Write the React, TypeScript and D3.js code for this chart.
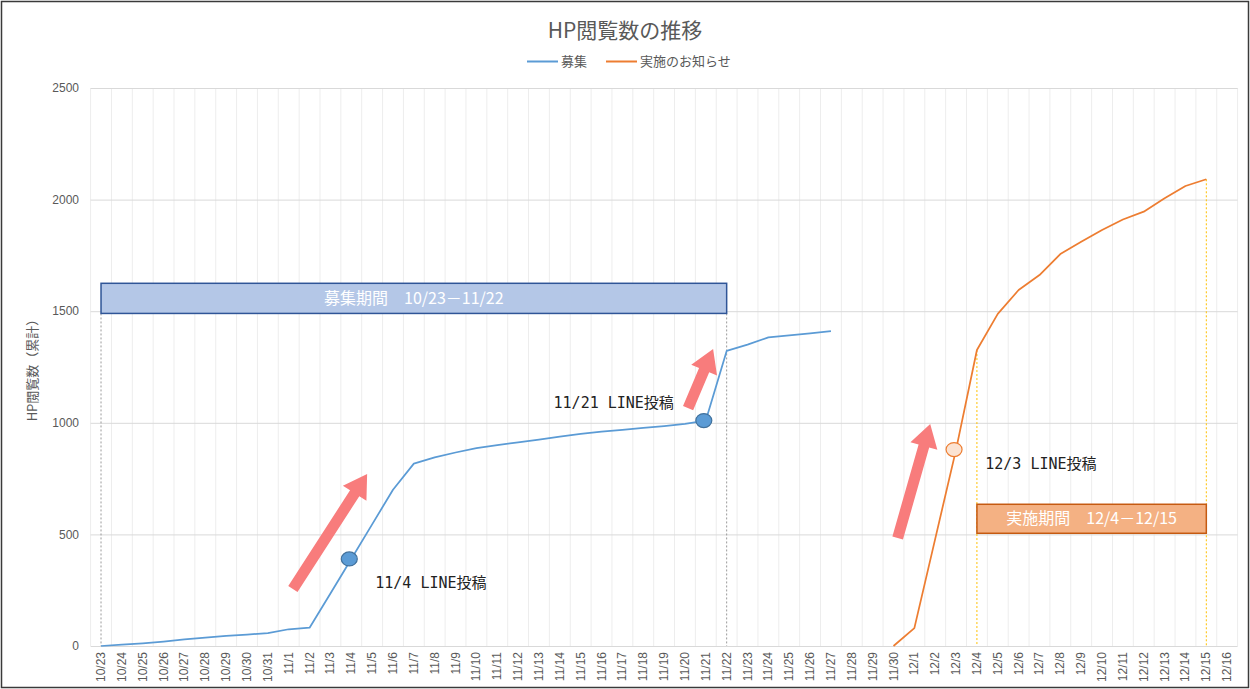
import { useEffect, useRef } from 'react';
import * as d3 from 'd3';

// categories (x axis)
const dates = [
  '10/23', '10/24', '10/25', '10/26', '10/27', '10/28', '10/29', '10/30', '10/31',
  '11/1', '11/2', '11/3', '11/4', '11/5', '11/6', '11/7', '11/8', '11/9', '11/10',
  '11/11', '11/12', '11/13', '11/14', '11/15', '11/16', '11/17', '11/18', '11/19', '11/20',
  '11/21', '11/22', '11/23', '11/24', '11/25', '11/26', '11/27', '11/28', '11/29', '11/30',
  '12/1', '12/2', '12/3', '12/4', '12/5', '12/6', '12/7', '12/8', '12/9', '12/10',
  '12/11', '12/12', '12/13', '12/14', '12/15', '12/16',
];

// 募集
const recruitViews: (number | null)[] = [
  0, 6, 12, 20, 30, 37, 45, 51, 58,
  75, 82, 235, 390, 545, 700, 817, 845, 867, 887,
  900, 912, 925, 938, 950, 960, 968, 977, 985, 995,
  1010, 1322, 1350, 1383, 1392, 1401, 1411, null, null, null,
  null, null, null, null, null, null, null, null, null, null,
  null, null, null, null, null, null,
];

// 実施のお知らせ
const noticeViews: (number | null)[] = [
  null, null, null, null, null, null, null, null, null,
  null, null, null, null, null, null, null, null, null, null,
  null, null, null, null, null, null, null, null, null, null,
  null, null, null, null, null, null, null, null, null, 0,
  80, 480, 880, 1326, 1488, 1595, 1662, 1756, 1811, 1864,
  1911, 1946, 2006, 2061, 2091, null,
];

const yTicks = [0, 500, 1000, 1500, 2000, 2500];

const seriesNames = ['募集', '実施のお知らせ'];
const seriesColors = ['#5B9BD5', '#ED7D31'];

// annotations, in (category index, value) units
const markerDates = ['11/4', '11/21', '12/3'];
const markerSeries = [0, 0, 1];

const noteTexts = ['11/4 LINE投稿', '11/21 LINE投稿', '12/3 LINE投稿'];
const noteAt = [13.15, 21.7, 42.4];
const noteValues = [282, 1089, 818];

const arrowFrom: [number, number][] = [[9.2, 255], [28.15, 1066], [38.2, 484]];
const arrowTo: [number, number][] = [[12.76, 771], [29.35, 1331], [39.76, 995]];

const periodLabels = ['募集期間　10/23－11/22', '実施期間　12/4－12/15'];
const periodFrom = ['10/23', '12/4'];
const periodTo = ['11/22', '12/15'];
const periodTop = [1625, 635];
const periodBottom = [1490, 505];

export default function App() {
  const ref = useRef<SVGSVGElement>(null);

  useEffect(() => {
    if (!ref.current) return;
    const svg = d3.select(ref.current);
    svg.selectAll('*').remove();

    const W = 1250, H = 689;
    const left = 90.6, right = 1237.6, top = 88, bottom = 646;
    const jp = '"Noto Sans CJK JP", "Noto Sans", sans-serif';
    const num = '"Liberation Sans", Arial, sans-serif';
    const mono = '"DejaVu Sans Mono", "Noto Sans CJK JP", monospace';

    const x = d3.scalePoint<string>().domain(dates).range([left, right]).padding(0.5);
    const step = x.step();
    const xi = (i: number) => (x(dates[0]) as number) + i * step;
    const y = d3.scaleLinear().domain([0, 2500]).range([bottom, top]);

    svg.append('rect').attr('width', W).attr('height', H).attr('fill', '#fff');
    svg.append('rect')
      .attr('x', 1.5).attr('y', 1.5).attr('width', W - 3).attr('height', H - 3)
      .attr('fill', 'none').attr('stroke', '#3a3a3a').attr('stroke-width', 1.5);

    // vertical grid (category boundaries)
    svg.append('g').selectAll('line')
      .data(d3.range(dates.length + 1))
      .enter().append('line')
      .attr('x1', d => left + d * step).attr('x2', d => left + d * step)
      .attr('y1', top).attr('y2', bottom)
      .attr('stroke', '#EDEDED').attr('stroke-width', 1);

    // horizontal grid
    svg.append('g')
      .attr('transform', `translate(${left},0)`)
      .call(d3.axisLeft(y).tickValues(yTicks).tickSize(-(right - left)).tickFormat(() => ''))
      .call(g => g.select('.domain').remove())
      .call(g => g.selectAll('.tick line').attr('stroke', '#D9D9D9'));

    // y labels
    svg.append('g').selectAll('text')
      .data(yTicks)
      .enter().append('text')
      .attr('x', 79).attr('y', d => y(d))
      .attr('dy', '0.35em')
      .attr('text-anchor', 'end')
      .style('font-family', num).style('font-size', '12px')
      .attr('fill', '#595959')
      .text(d => d);

    // x labels
    svg.append('g').selectAll('text')
      .data(dates)
      .enter().append('text')
      .attr('transform', d => `translate(${(x(d) as number) + 4},652) rotate(-90)`)
      .attr('text-anchor', 'end')
      .style('font-family', num).style('font-size', '12px')
      .attr('fill', '#595959')
      .text(d => d);

    // y axis title
    svg.append('text')
      .attr('transform', 'translate(37,367) rotate(-90)')
      .attr('text-anchor', 'middle')
      .style('font-family', jp).style('font-size', '13px')
      .attr('fill', '#595959')
      .text('HP閲覧数（累計）');

    // title
    svg.append('text')
      .attr('x', 625).attr('y', 31).attr('dy', '0.35em')
      .attr('text-anchor', 'middle')
      .style('font-family', jp).style('font-size', '21px')
      .attr('fill', '#595959')
      .text('HP閲覧数の推移');

    // legend
    const legendX = [527, 606];
    seriesNames.forEach((name, i) => {
      svg.append('line')
        .attr('x1', legendX[i]).attr('x2', legendX[i] + 31)
        .attr('y1', 61.5).attr('y2', 61.5)
        .attr('stroke', seriesColors[i]).attr('stroke-width', 2);
      svg.append('text')
        .attr('x', legendX[i] + 34).attr('y', 61.5).attr('dy', '0.35em')
        .style('font-family', jp).style('font-size', '13px')
        .attr('fill', '#595959')
        .text(name);
    });

    // drop lines
    const drop = (d: string, v: number, color: string) => {
      svg.append('line')
        .attr('x1', x(d) as number).attr('x2', x(d) as number)
        .attr('y1', y(v)).attr('y2', y(0))
        .attr('stroke', color).attr('stroke-width', 1)
        .attr('stroke-dasharray', '2,2');
    };
    drop('10/23', periodBottom[0], '#9A9A9A');
    drop('11/22', periodBottom[0], '#9A9A9A');
    drop('12/4', noticeViews[dates.indexOf('12/4')] as number, '#FFC000');
    drop('12/15', noticeViews[dates.indexOf('12/15')] as number, '#FFC000');

    // lines
    [recruitViews, noticeViews].forEach((vals, i) => {
      const line = d3.line<number | null>()
        .defined(d => d !== null)
        .x((_, j) => x(dates[j]) as number)
        .y(d => y(d as number));
      svg.append('path')
        .datum(vals)
        .attr('fill', 'none')
        .attr('stroke', seriesColors[i])
        .attr('stroke-width', 1.75)
        .attr('stroke-linejoin', 'round')
        .attr('d', line);
    });

    // period boxes
    periodLabels.forEach((label, i) => {
      const x0 = x(periodFrom[i]) as number;
      const x1 = x(periodTo[i]) as number;
      svg.append('rect')
        .attr('x', x0).attr('y', y(periodTop[i]))
        .attr('width', x1 - x0).attr('height', y(periodBottom[i]) - y(periodTop[i]))
        .attr('fill', i === 0 ? '#B4C7E7' : '#F4B183')
        .attr('stroke', i === 0 ? '#2F5597' : '#C55A11')
        .attr('stroke-width', 1.5);
      svg.append('text')
        .attr('x', (x0 + x1) / 2)
        .attr('y', (y(periodTop[i]) + y(periodBottom[i])) / 2)
        .attr('dy', '0.35em')
        .attr('text-anchor', 'middle')
        .style('font-family', jp).style('font-size', '16px')
        .attr('fill', '#FFFFFF')
        .text(label);
    });

    // arrows
    const arrowPath = (x1: number, y1: number, x2: number, y2: number) => {
      const shaft = 11, headLen = 23, headHalf = 14;
      const dx = x2 - x1, dy = y2 - y1, L = Math.hypot(dx, dy);
      const ux = dx / L, uy = dy / L, px = -uy, py = ux;
      const bx = x2 - ux * headLen, by = y2 - uy * headLen;
      const pts = [
        [x1 + px * shaft / 2, y1 + py * shaft / 2],
        [bx + px * shaft / 2, by + py * shaft / 2],
        [bx + px * headHalf, by + py * headHalf],
        [x2, y2],
        [bx - px * headHalf, by - py * headHalf],
        [bx - px * shaft / 2, by - py * shaft / 2],
        [x1 - px * shaft / 2, y1 - py * shaft / 2],
      ];
      return 'M' + pts.map(p => p.join(',')).join('L') + 'Z';
    };
    arrowFrom.forEach((f, i) => {
      svg.append('path')
        .attr('d', arrowPath(xi(f[0]), y(f[1]), xi(arrowTo[i][0]), y(arrowTo[i][1])))
        .attr('fill', '#F87C7C');
    });

    // markers
    markerDates.forEach((d, i) => {
      const vals = markerSeries[i] === 0 ? recruitViews : noticeViews;
      const v = vals[dates.indexOf(d)] as number;
      svg.append('ellipse')
        .attr('cx', (x(d) as number) - 2).attr('cy', y(v))
        .attr('rx', 8).attr('ry', 7)
        .attr('fill', markerSeries[i] === 0 ? '#5B9BD5' : '#FBE3D2')
        .attr('stroke', markerSeries[i] === 0 ? '#41719C' : '#ED7D31')
        .attr('stroke-width', 1.2);
    });

    // notes
    noteTexts.forEach((t, i) => {
      svg.append('text')
        .attr('x', xi(noteAt[i])).attr('y', y(noteValues[i]))
        .attr('dy', '0.35em')
        .style('font-family', mono).style('font-size', '15px')
        .attr('fill', '#222')
        .text(t);
    });
  }, []);

  return (
    <div style={{ position: 'absolute', left: 0, top: 0 }}>
      <svg ref={ref} width={1250} height={689} style={{ display: 'block' }} />
    </div>
  );
}
